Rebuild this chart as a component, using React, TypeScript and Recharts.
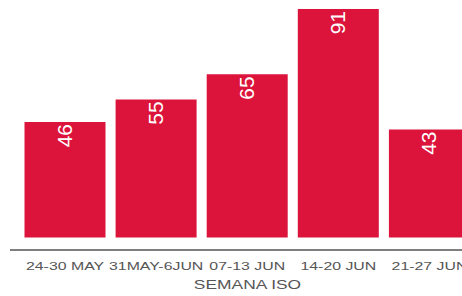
import React from "react";
import { BarChart, Bar, XAxis, YAxis, LabelList } from "recharts";

const weeks = ["24-30 MAY", "31MAY-6JUN", "07-13 JUN", "14-20 JUN", "21-27 JUN"];
const counts = [46, 55, 65, 91, 43];

const data = weeks.map((week, i) => ({ week, count: counts[i] }));

const FONT = "'Liberation Sans', Arial, sans-serif";

function WeekTick(props: any) {
  const { x, y, payload } = props;
  return (
    <g transform={`translate(${x},${y + 12}) scale(1.38,1)`}>
      <text textAnchor="middle" fill="#555" fontSize={11.5} fontFamily={FONT}>
        {payload.value}
      </text>
    </g>
  );
}

function AxisTitle(props: any) {
  const vb = props.viewBox || {};
  const cx = vb.x + vb.width / 2 + 5;
  return (
    <g transform={`translate(${cx},289) scale(1.45,1)`}>
      <text textAnchor="middle" fill="#555" fontSize={12} fontFamily={FONT}>
        SEMANA ISO
      </text>
    </g>
  );
}

function BarValue(props: any) {
  const { x, y, width, value } = props;
  const cx = x + width / 2 - 1;
  const ty = y + 2;
  return (
    <text
      x={cx}
      y={ty}
      transform={`rotate(-90 ${cx} ${ty})`}
      textAnchor="end"
      dominantBaseline="central"
      fill="#fff"
      fontSize={21}
      fontFamily={FONT}
    >
      {value}
    </text>
  );
}

export default function App() {
  return (
    <div style={{ position: "fixed", left: 0, top: 0, width: 462, height: 296, overflow: "hidden", background: "#fff" }}>
      <BarChart
        width={480}
        height={296}
        data={data}
        margin={{ top: 9, right: 5, left: 10, bottom: 0 }}
        barCategoryGap={5}
      >
        <XAxis
          dataKey="week"
          height={46}
          padding={{ left: 9.5, right: 0 }}
          axisLine={{ stroke: "#555", strokeWidth: 1.5 }}
          tickLine={false}
          tick={<WeekTick />}
          interval={0}
          label={<AxisTitle />}
        />
        <YAxis hide domain={[-5, 91]} allowDataOverflow />
        <Bar dataKey="count" fill="#DC143C" isAnimationActive={false}>
          <LabelList dataKey="count" content={<BarValue />} />
        </Bar>
      </BarChart>
    </div>
  );
}
